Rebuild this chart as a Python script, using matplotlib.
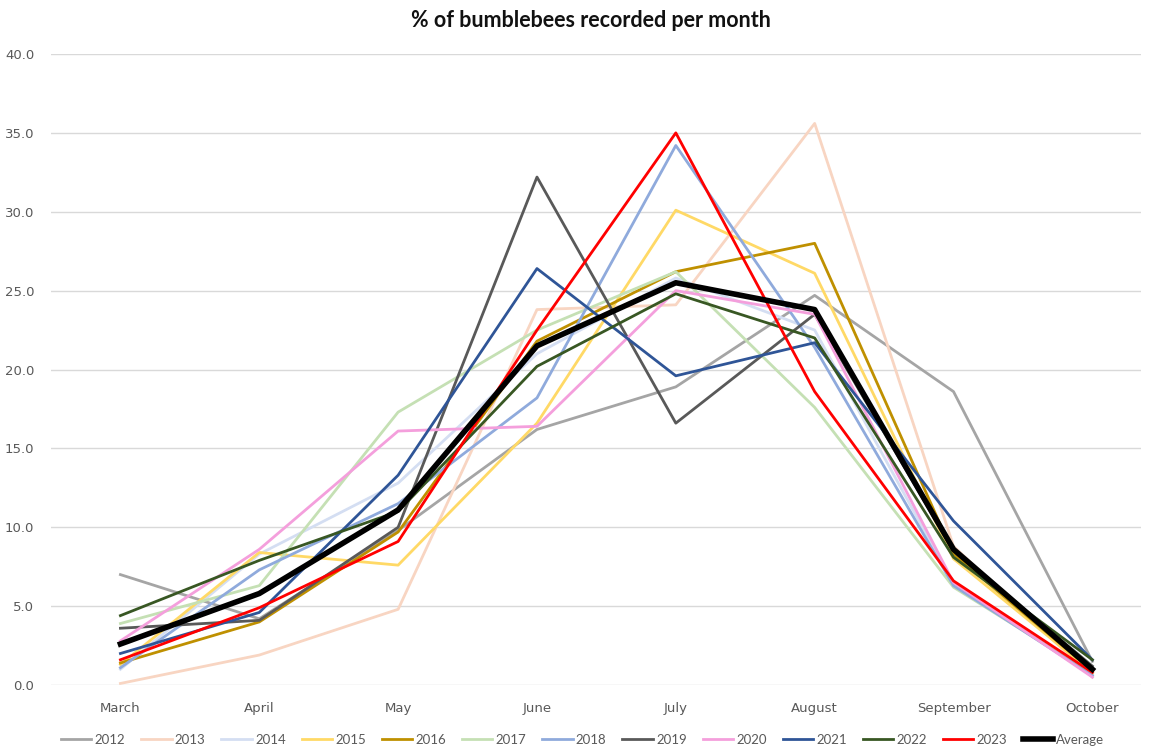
import matplotlib
matplotlib.use("Agg")
import matplotlib.pyplot as plt

months = ["March", "April", "May", "June", "July", "August", "September", "October"]

y2012 = [7.0, 4.2, 9.8, 16.2, 18.9, 24.7, 18.6, 1.5]
y2013 = [0.1, 1.9, 4.8, 23.8, 24.1, 35.6, 8.8, 0.5]
y2014 = [1.0, 8.3, 12.8, 21.0, 25.8, 22.5, 6.4, 0.6]
y2015 = [1.3, 8.4, 7.6, 16.6, 30.1, 26.1, 8.0, 0.8]
y2016 = [1.4, 4.0, 9.7, 21.8, 26.2, 28.0, 8.3, 0.9]
y2017 = [3.9, 6.3, 17.3, 22.5, 26.2, 17.6, 6.2, 0.7]
y2018 = [1.1, 7.3, 11.5, 18.2, 34.2, 21.4, 6.3, 0.6]
y2019 = [3.6, 4.1, 10.0, 32.2, 16.6, 23.5, 8.5, 1.2]
y2020 = [2.8, 8.6, 16.1, 16.4, 25.0, 23.5, 6.5, 0.5]
y2021 = [2.0, 4.6, 13.3, 26.4, 19.6, 21.7, 10.4, 1.6]
y2022 = [4.4, 7.9, 11.0, 20.2, 24.8, 22.0, 8.1, 1.6]
y2023 = [1.6, 4.9, 9.1, 22.5, 35.0, 18.6, 6.6, 0.8]
average = [2.6, 5.8, 11.1, 21.5, 25.5, 23.8, 8.6, 1.0]

series = [
    ("2012", y2012, "#a5a5a5"),
    ("2013", y2013, "#f8d5c2"),
    ("2014", y2014, "#d4def2"),
    ("2015", y2015, "#ffd966"),
    ("2016", y2016, "#bf9000"),
    ("2017", y2017, "#c5e0b4"),
    ("2018", y2018, "#8faadc"),
    ("2019", y2019, "#595959"),
    ("2020", y2020, "#f49fdc"),
    ("2021", y2021, "#2f5597"),
    ("2022", y2022, "#385723"),
    ("2023", y2023, "#ff0000"),
]

fig = plt.figure(figsize=(11.54, 7.49), dpi=100)
ax = fig.add_axes([0.0442, 0.0854, 0.9445, 0.8425])

x = range(len(months))
for name, vals, col in series:
    ax.plot(x, vals, color=col, lw=2.0, label=name, solid_joinstyle="round")
ax.plot(x, average, color="black", lw=4.0, label="Average", solid_joinstyle="round")

ax.set_ylim(0, 40)
ax.set_xlim(-0.5, 7.35)
ax.set_yticks(range(0, 41, 5))
ax.set_yticklabels([f"{v:.1f}" for v in range(0, 41, 5)])
ax.set_xticks(list(x))
ax.set_xticklabels(months)
ax.tick_params(axis="both", length=0, labelsize=9.5, labelcolor="#595959")
ax.tick_params(axis="x", pad=12)
ax.tick_params(axis="y", pad=12)
ax.grid(axis="y", color="#d9d9d9", lw=1)
ax.set_axisbelow(True)
for s in ax.spines.values():
    s.set_visible(False)

fig.text(0.512, 0.973, "% of bumblebees recorded per month", ha="center", va="center",
         fontsize=15.5, fontweight="bold", family="Lato", color="#111111")

fig.legend(loc="lower center", bbox_to_anchor=(0.505, -0.012), ncol=13, frameon=False,
           prop={"family": "Lato", "size": 9.5}, handlelength=2.3, handletextpad=0.25,
           columnspacing=1.2, labelcolor="#595959")

fig.savefig("out.png", dpi=100)
